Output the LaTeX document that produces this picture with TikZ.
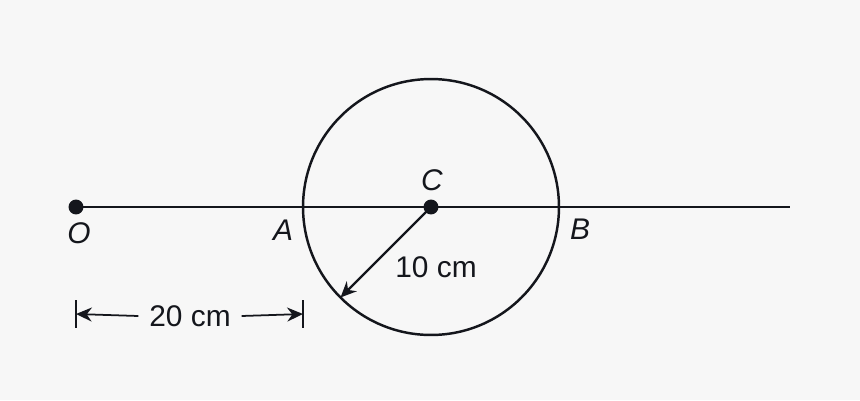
\documentclass[tikz,border=0pt]{standalone}
\usepackage{fontspec}
\setmainfont{Liberation Sans}
\usetikzlibrary{arrows.meta}
\usetikzlibrary{positioning}
\definecolor{paper}{RGB}{247,247,247}
\definecolor{ink}{RGB}{20,22,28}
\tikzset{
    dot/.style={
        circle,
        fill=ink,
        inner sep=0pt,
        minimum size=8.5pt
    },
    point label/.style={
        font=\fontsize{17}{20}\selectfont\itshape,
        text=ink,
        inner sep=0pt
    },
    size label/.style={
        font=\fontsize{17}{20}\selectfont,
        text=ink,
        inner sep=1pt
    },
    main line/.style={
        draw=ink,
        line width=1.6pt
    },
    dim arrow/.style={
        draw=ink,
        line width=1pt,
        -{Stealth[length=9pt,width=8pt]}
    }
}

\begin{document}
\begin{tikzpicture}[x=0.02cm,y=-0.02cm]
    \fill[paper] (0,0) rectangle (860,400);
    \useasboundingbox (0,0) rectangle (860,400);

    % points on the axis
    \node[dot] (O) at (76,207) {};
    \node[dot] (C) at (431,207) {};
    \coordinate (end) at (790,207);
    \node[circle,draw=ink,line width=1.4pt,minimum size=5.12cm,inner sep=0pt,outer sep=0pt] (ring) at (431,207) {};

    \draw[main line] (O.center) -- (end);

    % labels
    \node[point label] (lO) at (79,233) {O};
    \node[point label] (lA) at (283,230) {A};
    \node[point label] (lB) at (580,229) {B};
    \node[point label] (lC) at (432,180) {C};

    % radius
    \draw[dim arrow,line width=1.4pt] (C.center) -- (ring.225);
    \node[size label] (r) at (436,267) {10 cm};

    % distance O to A
    \coordinate (d1) at (76,314);
    \coordinate (d2) at (303,314);
    \draw[ink,line width=1pt] (76,300) -- (76,328);
    \draw[ink,line width=1pt] (303,300) -- (303,328);
    \node[size label] (dist) at (190,316) {20 cm};
    \draw[dim arrow] (dist.west) ++(-5pt,0) -- (d1);
    \draw[dim arrow] (dist.east) ++(5pt,0) -- (d2);
\end{tikzpicture}
\end{document}
